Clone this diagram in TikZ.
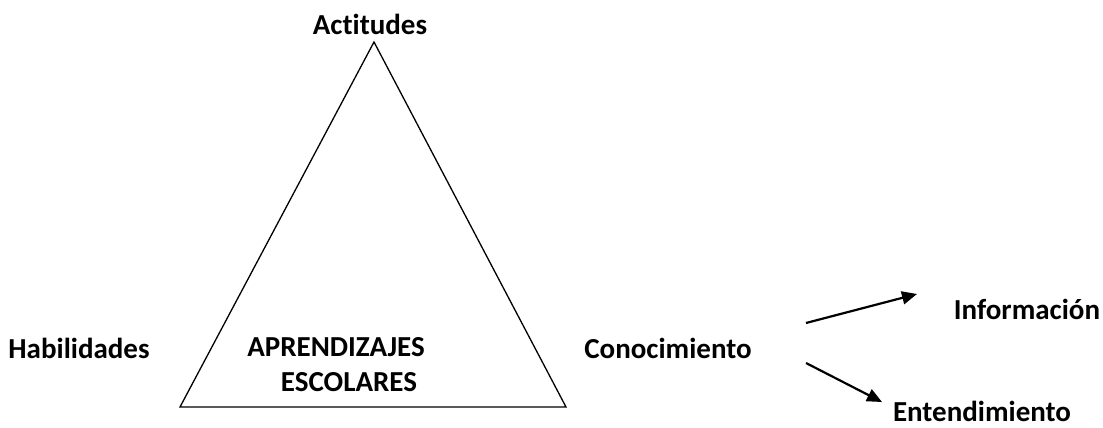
\documentclass[tikz,border=0pt]{standalone}
\usepackage{fontspec}
\setmainfont[Ligatures=CommonOff]{Carlito}
\usetikzlibrary{arrows.meta}
\begin{document}
\begin{tikzpicture}[x=1pt,y=-1pt,
  lbl/.style={font=\bfseries\fontsize{29}{34}\selectfont, inner sep=0pt, align=center},
  arr/.style={line width=2.2pt, -{Triangle[length=15pt,width=13pt]}}]
\useasboundingbox (0,0) rectangle (1103,428);
\coordinate (A) at (374,42);
\coordinate (L) at (180,407);
\coordinate (R) at (566,407);
\draw[line width=1.3pt, line join=miter] (A) -- (L) -- (R) -- cycle;
\node[lbl] (act) at (370,24) {Actitudes};
\node[lbl] (hab) at (79,348) {Habilidades};
\node[lbl] (apr) at (336,347) {APRENDIZAJES};
\node[lbl] (esc) at (349,382) {ESCOLARES};
\node[lbl] (con) at (668,348) {Conocimiento};
\node[lbl] (inf) at (1027,309) {Información};
\node[lbl] (ent) at (982,411) {Entendimiento};
\coordinate (s1) at (806,323);
\coordinate (t1) at (917,294);
\coordinate (s2) at (806,363);
\coordinate (t2) at (882,402);
\draw[arr] (s1) -- (t1);
\draw[arr] (s2) -- (t2);
\end{tikzpicture}
\end{document}
